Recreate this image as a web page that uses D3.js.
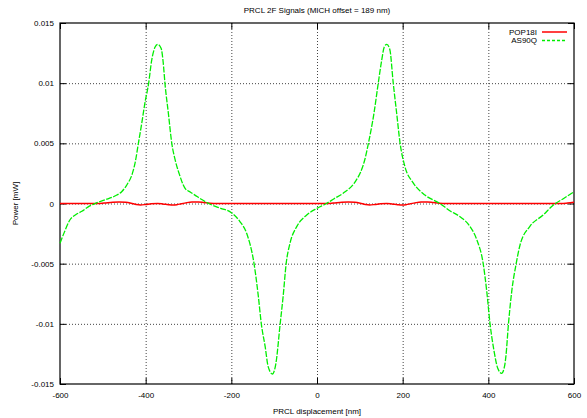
<!DOCTYPE html>
<html>
<head>
<meta charset="utf-8">
<script src="https://cdn.jsdelivr.net/npm/d3@7"></script>
<style>
  body { margin: 0; background: #fff; }
  svg { display: block; font-family: "Liberation Sans", Arial, Helvetica, sans-serif; }
  .tick text { font-size: 8px; fill: #000; }
  .grid line { stroke: #444; stroke-dasharray: 1,2; }
  .grid .domain { display: none; }
</style>
</head>
<body>
<script>
  'use strict';

  // PRCL displacement [nm] / power [mW]
  var as90qX = [-600, -590, -577, -562, -549, -535, -518, -495, -472, -456, -443, -431, -424,
    -417, -409, -402, -393, -386, -378, -372, -364, -359, -355, -347, -339, -331, -322, -308,
    -296, -285, -270, -253, -225, -200, -180, -164, -147, -137, -130, -121, -114, -104, -96,
    -86, -79, -72, -63, -47, -24, 0, 22, 40, 61, 89, 104, 112, 120, 133, 143, 151, 157, 163,
    170, 178, 186, 194, 205, 225, 252, 287, 310, 334, 357, 373, 388, 396, 404, 413, 422, 431,
    438, 441, 447, 455, 465, 474, 497, 528, 552, 575, 600];
  var as90qY = [-0.0033, -0.0024, -0.00137, -0.0009, -0.00065, -0.0003, 0, 0.0003, 0.00062,
    0.00098, 0.0016, 0.0025, 0.0035, 0.005, 0.0067, 0.0083, 0.01, 0.0119, 0.013, 0.01323,
    0.0129, 0.0117, 0.01, 0.0075, 0.005, 0.0036, 0.0025, 0.00126, 0.00095, 0.0007, 0.00035, 0,
    -0.0004, -0.00076, -0.0015, -0.0025, -0.005, -0.0077, -0.01, -0.0119, -0.01356, -0.01417,
    -0.0133, -0.01, -0.0077, -0.005, -0.0033, -0.0019, -0.00096, -0.0004, 0, 0.0004, 0.00085,
    0.0018, 0.0028, 0.0037, 0.005, 0.0075, 0.01, 0.0119, 0.013, 0.01323, 0.0128, 0.01, 0.0075,
    0.005, 0.0031, 0.0017, 0.0007, 0, -0.0006, -0.0011, -0.0019, -0.003, -0.005, -0.0072,
    -0.01, -0.0122, -0.0137, -0.01411, -0.0135, -0.0127, -0.01, -0.0072, -0.005, -0.00345,
    -0.0019, -0.00096, -0.00012, 0.0004, 0.00098];

  var pop18iX = [-600, -512, -497, -477, -462, -447, -434, -422, -412, -400, -387, -372, -360,
    -347, -337, -327, -317, -304, -292, -277, -264, -250, -232, 23, 38, 58, 73, 88, 101, 113,
    123, 135, 148, 163, 175, 188, 198, 208, 218, 231, 243, 258, 271, 285, 303, 570, 585, 600];
  var pop18iY = [0, 0, 0.00004, 0.00011, 0.00013, 0.0001, 0.00002, -0.00008, -0.00012, -0.00008,
    -0.00002, 0, -0.00004, -0.0001, -0.00013, -0.0001, -0.00002, 0.00007, 0.00012, 0.00013,
    0.00008, 0.00002, 0, 0, 0.00004, 0.00011, 0.00013, 0.0001, 0.00002, -0.00008, -0.00012,
    -0.00008, -0.00002, 0, -0.00004, -0.0001, -0.00013, -0.0001, -0.00002, 0.00007, 0.00012,
    0.00013, 0.00008, 0.00002, 0, 0, 0.00004, 0.0001];

  var xTicks = [-600, -400, -200, 0, 200, 400, 600];
  var yTicks = [-0.015, -0.01, -0.005, 0, 0.005, 0.01, 0.015];
  var seriesNames = ['POP18I', 'AS90Q'];

  var W = 587, H = 418,
      plotLeft = 60, plotRight = 574, plotTop = 23, plotBottom = 384,
      tickLen = 6;

  var svg = d3.select('body').append('svg')
    .attr('width', W)
    .attr('height', H);

  var x = d3.scaleLinear().domain([-600, 600]).range([plotLeft, plotRight]);
  var y = d3.scaleLinear().domain([-0.015, 0.015]).range([plotBottom, plotTop]);

  // dotted grid, inner ticks only
  svg.append('g')
    .attr('class', 'grid')
    .attr('transform', 'translate(0,' + plotBottom + ')')
    .call(d3.axisBottom(x).tickValues(xTicks.slice(1, -1))
      .tickSize(-(plotBottom - plotTop)).tickFormat(''));
  svg.append('g')
    .attr('class', 'grid')
    .attr('transform', 'translate(' + plotLeft + ',0)')
    .call(d3.axisLeft(y).tickValues(yTicks.slice(1, -1))
      .tickSize(-(plotRight - plotLeft)).tickFormat(''));

  function fmt(d) { return String(d); }

  // axes with ticks pointing inward, mirrored on top/right
  var gx = svg.append('g')
    .attr('transform', 'translate(0,' + plotBottom + ')')
    .call(d3.axisBottom(x).tickValues(xTicks).tickSize(-tickLen).tickFormat(fmt));
  var gy = svg.append('g')
    .attr('transform', 'translate(' + plotLeft + ',0)')
    .call(d3.axisLeft(y).tickValues(yTicks).tickSize(-tickLen).tickFormat(fmt));
  var gt = svg.append('g')
    .attr('transform', 'translate(0,' + plotTop + ')')
    .call(d3.axisTop(x).tickValues(xTicks).tickSize(-tickLen).tickFormat(''));
  var gr = svg.append('g')
    .attr('transform', 'translate(' + plotRight + ',0)')
    .call(d3.axisRight(y).tickValues(yTicks).tickSize(-tickLen).tickFormat(''));

  [gx, gy, gt, gr].forEach(function (g) {
    g.select('.domain').remove();
    g.selectAll('.tick line').attr('stroke', '#000');
  });
  gx.selectAll('.tick text').attr('y', 8).attr('dy', '0.71em');
  gy.selectAll('.tick text').attr('x', -6);

  svg.append('rect')
    .attr('x', plotLeft).attr('y', plotTop)
    .attr('width', plotRight - plotLeft).attr('height', plotBottom - plotTop)
    .attr('fill', 'none').attr('stroke', '#000').attr('stroke-width', 1.2);

  var line = d3.line()
    .x(function (d) { return x(d[0]); })
    .y(function (d) { return y(d[1]); })
    .curve(d3.curveMonotoneX);

  svg.append('path')
    .datum(d3.zip(pop18iX, pop18iY))
    .attr('d', line)
    .attr('fill', 'none')
    .attr('stroke', '#ff0000')
    .attr('stroke-width', 1.5);

  svg.append('path')
    .datum(d3.zip(as90qX, as90qY))
    .attr('d', line)
    .attr('fill', 'none')
    .attr('stroke', '#00ee00')
    .attr('stroke-width', 1.3)
    .attr('stroke-dasharray', '6,1.5');

  // legend
  var legend = svg.append('g').attr('font-size', 8);
  seriesNames.forEach(function (name, i) {
    var ly = 32 + i * 8.5;
    legend.append('text')
      .attr('x', 537).attr('y', ly).attr('dy', '0.32em')
      .attr('text-anchor', 'end')
      .text(name);
    legend.append('line')
      .attr('x1', 542).attr('x2', 567)
      .attr('y1', ly).attr('y2', ly)
      .attr('stroke', i === 0 ? '#ff0000' : '#00ee00')
      .attr('stroke-width', i === 0 ? 1.5 : 1.3)
      .attr('stroke-dasharray', i === 0 ? null : '3,2');
  });

  // titles
  svg.append('text')
    .attr('x', (plotLeft + plotRight) / 2).attr('y', 13)
    .attr('text-anchor', 'middle').attr('font-size', 8)
    .text('PRCL 2F Signals (MICH offset = 189 nm)');
  svg.append('text')
    .attr('x', (plotLeft + plotRight) / 2).attr('y', 414)
    .attr('text-anchor', 'middle').attr('font-size', 8)
    .text('PRCL displacement [nm]');
  svg.append('text')
    .attr('transform', 'translate(18,' + (plotTop + plotBottom) / 2 + ') rotate(-90)')
    .attr('text-anchor', 'middle').attr('font-size', 8)
    .text('Power [mW]');
</script>
</body>
</html>
